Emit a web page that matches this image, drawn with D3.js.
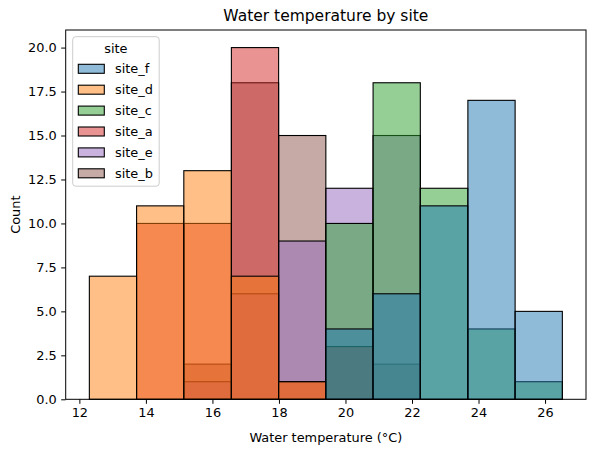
<!DOCTYPE html>
<html>
<head>
<meta charset="utf-8">
<script src="https://cdn.jsdelivr.net/npm/d3@7"></script>
<style>
  html, body { margin: 0; padding: 0; background: #fff; }
  svg { display: block; font-family: "DejaVu Sans", sans-serif; }
</style>
</head>
<body>
<svg id="chart" width="596" height="451"></svg>
<script>
// ---- data ----
const binEdges = [12.30, 13.72, 15.14, 16.57, 17.99, 19.41, 20.83, 22.25, 23.68, 25.10, 26.52];
const sites = ["site_f", "site_d", "site_c", "site_a", "site_e", "site_b"];
const siteColors = ["#1f77b4", "#ff7f0e", "#2ca02c", "#d62728", "#9467bd", "#8c564b"];
const site_f = [0, 0, 0, 0, 0, 4, 6, 11, 17, 5];
const site_d = [7, 11, 13, 7, 1, 0, 0, 0, 0, 0];
const site_c = [0, 0, 0, 0, 0, 10, 18, 12, 4, 1];
const site_a = [0, 10, 10, 20, 1, 3, 0, 0, 0, 0];
const site_e = [0, 0, 1, 6, 9, 12, 15, 0, 0, 0];
const site_b = [0, 0, 2, 18, 15, 3, 2, 0, 0, 0];
const xTicks = [12, 14, 16, 18, 20, 22, 24, 26];
const yTicks = [0, 2.5, 5, 7.5, 10, 12.5, 15, 17.5, 20];
const title = "Water temperature by site";
const xLabel = "Water temperature (°C)";
const yLabel = "Count";
const legendTitle = "site";

const counts = { site_f, site_d, site_c, site_a, site_e, site_b };

// ---- layout ----
const svg = d3.select("#chart");
const plot = { left: 65.7, right: 586, top: 30, bottom: 399.3 };
const span = binEdges[binEdges.length - 1] - binEdges[0];
const x = d3.scaleLinear()
  .domain([binEdges[0] - 0.05 * span, binEdges[binEdges.length - 1] + 0.05 * span])
  .range([plot.left, plot.right]);
const maxCount = d3.max(sites, s => d3.max(counts[s]));
const y = d3.scaleLinear().domain([0, maxCount * 1.05]).range([plot.bottom, plot.top]);

const fontTick = 12.9;

// bars: hue order reversed so the first site is drawn on top
const g = svg.append("g");
sites.slice().reverse().forEach(s => {
  const ci = sites.indexOf(s);
  const data = counts[s].map((c, i) => ({ c, x0: binEdges[i], x1: binEdges[i + 1] })).filter(d => d.c > 0);
  g.append("g").selectAll("rect").data(data).join("rect")
    .attr("x", d => x(d.x0))
    .attr("width", d => x(d.x1) - x(d.x0))
    .attr("y", d => y(d.c))
    .attr("height", d => y(0) - y(d.c))
    .attr("fill", siteColors[ci])
    .attr("fill-opacity", 0.5)
    .attr("stroke", "#000")
    .attr("stroke-width", 1.1);
});

// axes
const xAxis = d3.axisBottom(x).tickValues(xTicks).tickSize(4.5).tickPadding(4.5).tickFormat(d3.format("d"));
const yAxis = d3.axisLeft(y).tickValues(yTicks).tickSize(4.5).tickPadding(4.5).tickFormat(d3.format(".1f"));
const gx = svg.append("g").attr("transform", `translate(0,${plot.bottom})`).call(xAxis);
const gy = svg.append("g").attr("transform", `translate(${plot.left},0)`).call(yAxis);
[gx, gy].forEach(a => {
  a.select(".domain").remove();
  a.selectAll("text").attr("font-size", fontTick).attr("fill", "#000").attr("font-family", "DejaVu Sans");
  a.selectAll("line").attr("stroke", "#000").attr("stroke-width", 1);
});

// frame
svg.append("rect")
  .attr("x", plot.left).attr("y", plot.top)
  .attr("width", plot.right - plot.left).attr("height", plot.bottom - plot.top)
  .attr("fill", "none").attr("stroke", "#000").attr("stroke-width", 1);

// title & labels
svg.append("text").attr("x", (plot.left + plot.right) / 2).attr("y", 21)
  .attr("text-anchor", "middle").attr("font-size", 15.5).text(title);
svg.append("text").attr("x", (plot.left + plot.right) / 2).attr("y", 442)
  .attr("text-anchor", "middle").attr("font-size", fontTick).text(xLabel);
svg.append("text")
  .attr("transform", `translate(20,${(plot.top + plot.bottom) / 2}) rotate(-90)`)
  .attr("text-anchor", "middle").attr("font-size", fontTick).text(yLabel);

// legend
const lg = svg.append("g");
lg.append("rect").attr("x", 72.7).attr("y", 36.7).attr("width", 86.5).attr("height", 149.5)
  .attr("rx", 3).attr("fill", "#fff").attr("fill-opacity", 0.8)
  .attr("stroke", "#cccccc").attr("stroke-width", 1);
lg.append("text").attr("x", 115.9).attr("y", 53).attr("text-anchor", "middle")
  .attr("font-size", fontTick).text(legendTitle);
const rowY = d3.scaleLinear().domain([0, sites.length - 1]).range([68.8, 173.3]);
sites.forEach((s, i) => {
  lg.append("rect").attr("x", 78.3).attr("y", rowY(i) - 4.5).attr("width", 26).attr("height", 9)
    .attr("fill", siteColors[i]).attr("fill-opacity", 0.5)
    .attr("stroke", "#000").attr("stroke-width", 1.1);
  lg.append("text").attr("x", 115).attr("y", rowY(i) + 4.6)
    .attr("font-size", fontTick).text(s);
});
</script>
</body>
</html>
